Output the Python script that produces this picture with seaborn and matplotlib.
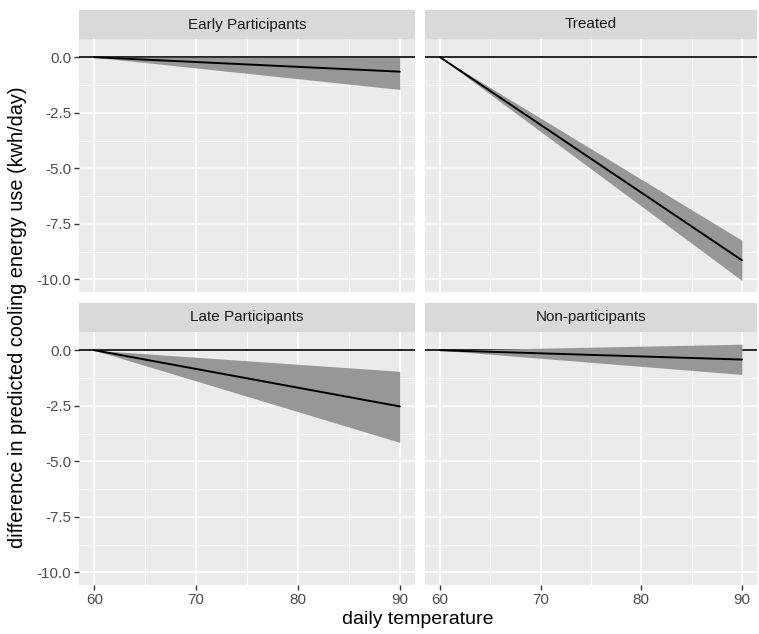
import numpy as np
import pandas as pd
import seaborn as sns
import matplotlib.pyplot as plt
from matplotlib.patches import Rectangle

# facet groups, in panel order
groups = ["Early Participants", "Treated", "Late Participants", "Non-participants"]
temps = [60, 90]

# predicted difference at 60 and at 90 degrees
fit_60 = [0.0, 0.0, 0.0, 0.0]
fit_90 = [-0.65, -9.14, -2.53, -0.42]
lower_60 = [0.0, 0.0, 0.0, 0.0]
lower_90 = [-1.45, -10.05, -4.15, -1.09]
upper_60 = [0.0, 0.0, 0.0, 0.0]
upper_90 = [-0.02, -8.24, -0.95, 0.27]

y_ticks = [0.0, -2.5, -5.0, -7.5, -10.0]
x_ticks = [60, 70, 80, 90]

rows = []
for i, grp in enumerate(groups):
    rows.append([grp, temps[0], fit_60[i], lower_60[i], upper_60[i]])
    rows.append([grp, temps[1], fit_90[i], lower_90[i], upper_90[i]])
df = pd.DataFrame(rows, columns=["group", "temp", "fit", "lower", "upper"])

sns.set_theme(style="darkgrid", rc={
    "axes.facecolor": "#EBEBEB",
    "grid.color": "white",
    "xtick.color": "#333333",
    "ytick.color": "#333333",
    "xtick.labelcolor": "#4D4D4D",
    "ytick.labelcolor": "#4D4D4D",
})
plt.rcParams["font.family"] = ["Liberation Sans", "DejaVu Sans"]


def draw_band(data, **kws):
    ax = plt.gca()
    ax.axhline(0, color="black", lw=1.2, zorder=2)
    ax.fill_between(data["temp"], data["lower"], data["upper"],
                    color="#979797", lw=0, zorder=3)
    ax.plot(data["temp"], data["fit"], color="black", lw=1.4, zorder=4)


g = sns.FacetGrid(df, col="group", col_wrap=2, col_order=groups,
                  sharex=True, sharey=True)
g.map_dataframe(draw_band)
g.set_titles("")
g.set_axis_labels("", "")

fig = g.figure
fig.set_size_inches(7.59, 6.34)

W, H = 759, 634
# panel boxes in pixels: (left, top, right, bottom)
boxes = [(79, 39, 415, 292), (425, 39, 757, 292),
         (79, 332, 415, 585), (425, 332, 757, 585)]
strip_h = 29

for i, ax in enumerate(g.axes.flat):
    l, t, r, b = boxes[i]
    ax.set_position([l / W, 1 - b / H, (r - l) / W, (b - t) / H])
    ax.set_xlim(58.5, 91.5)
    ax.set_ylim(-10.57, 0.82)
    ax.set_xticks(x_ticks)
    ax.set_xticks([65, 75, 85], minor=True)
    ax.set_yticks(y_ticks)
    ax.set_yticks([-1.25, -3.75, -6.25, -8.75], minor=True)
    ax.grid(which="major", color="white", lw=1.2)
    ax.grid(which="minor", color="white", lw=0.6)
    for s in ax.spines.values():
        s.set_visible(False)
    bottom_row = i >= 2
    left_col = i % 2 == 0
    ax.tick_params(axis="x", which="major", bottom=bottom_row, length=3.5,
                   width=1, pad=2, labelbottom=bottom_row, labelsize=11)
    ax.tick_params(axis="y", which="major", left=left_col, length=3.5,
                   width=1, pad=2, labelleft=left_col, labelsize=11)
    ax.tick_params(which="minor", length=0)
    if bottom_row:
        ax.set_xticklabels([str(v) for v in x_ticks])
    if left_col:
        ax.set_yticklabels([f"{v:.1f}" for v in y_ticks])
    ax.add_patch(Rectangle((0, 1), 1, strip_h / (b - t), transform=ax.transAxes,
                           facecolor="#D9D9D9", edgecolor="none", clip_on=False))
    ax.text(0.5, 1 + strip_h / 2 / (b - t), groups[i], transform=ax.transAxes,
            ha="center", va="center", fontsize=11, color="#1A1A1A")

fig.text(418 / W, 1 - 620 / H, "daily temperature", ha="center", va="center",
         fontsize=14, color="black")
fig.text(18 / W, 1 - 317 / H, "difference in predicted cooling energy use (kwh/day)",
         ha="center", va="center", rotation=90, fontsize=14.3, color="black")

fig.savefig("out.png", dpi=100)
